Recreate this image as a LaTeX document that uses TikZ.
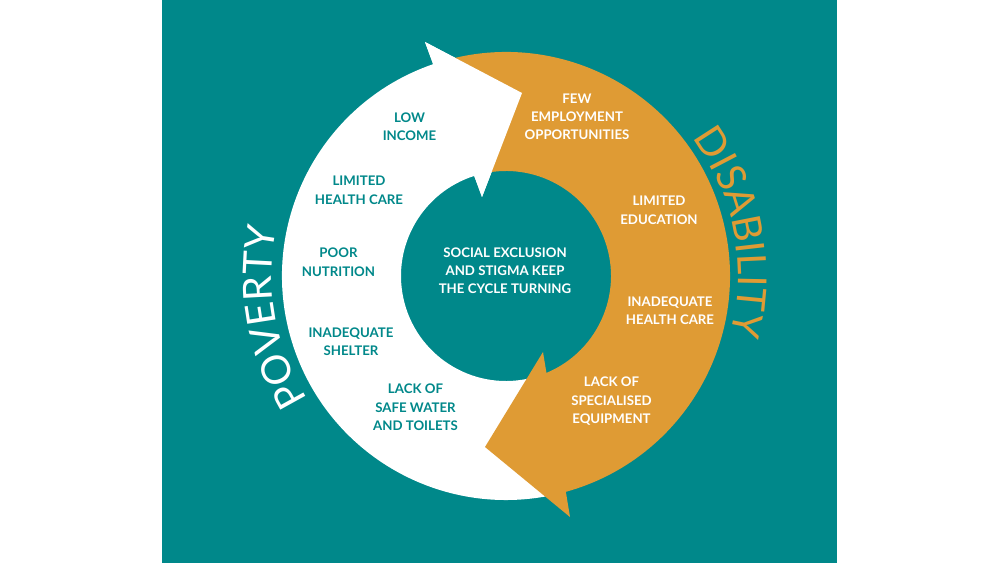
\documentclass[tikz,border=0pt]{standalone}
\usepackage{fontspec}
\setmainfont{Lato}
\newfontfamily\curvefont{Lato}
\usetikzlibrary{calc,decorations.text}
\definecolor{bgteal}{HTML}{00888A}
\definecolor{ochre}{HTML}{DF9B34}
\begin{document}
\begin{tikzpicture}[x=0.03cm,y=0.03cm,
  lab/.style={font=\fontsize{11.3}{15.6}\selectfont\bfseries, align=center, inner sep=0pt, anchor=north},
  labw/.style={lab, text=bgteal},
  labo/.style={lab, text=white}]
\useasboundingbox (0,0) rectangle (1000,563);
\fill[white] (0,0) rectangle (1000,563);
\fill[bgteal] (162,0) rectangle (837,563);
\coordinate (C) at (506,287);
\coordinate (wo) at (425,521);
\coordinate (wi) at (482,366);
\coordinate (wt) at (522,470);
\coordinate (oo) at (570,46);
\coordinate (oi) at (543,211);
\coordinate (ot) at (485,116);
% white arrow
\fill[white] ($(C)+(108.98:224)$) arc[start angle=108.98, end angle=282, radius=224]
  -- ($(C)+(282:105)$) arc[start angle=282, end angle=107.6, radius=105]
  -- (wi) -- (wt) -- (wo) -- cycle;
% orange arrow
\fill[ochre] ($(C)+(105:224)$) arc[start angle=105, end angle=-74.5, radius=224]
  -- (oo) -- (ot) -- (oi) -- ($(C)+(-67.35:105)$)
  arc[start angle=-67.35, end angle=105, radius=105] -- cycle;
% white head on top
\fill[white] (wo) -- (wi) -- (wt) -- cycle;
% curved titles
\path[decorate, decoration={text along path, text align=center,
  text={|\curvefont\fontsize{34}{34}\selectfont\color{white}|POVERTY}}]
  ($(C)+(225:234)$) arc[start angle=225, end angle=155, radius=234];
\path[decorate, decoration={text along path, text align=center,
  text={|\curvefont\fontsize{34}{34}\selectfont\color{ochre}|DISABILITY}}]
  ($(C)+(50:232)$) arc[start angle=50, end angle=-28, radius=232];
% labels
\node[labw] (l1) at (409.5,450.5) {LOW\\INCOME};
\node[labw] (l2) at (359,387) {LIMITED\\HEALTH CARE};
\node[labw] (l3) at (338.5,315) {POOR\\NUTRITION};
\node[labw] (l4) at (351,235.5) {INADEQUATE\\SHELTER};
\node[labw] (l5) at (415.5,179) {LACK OF\\SAFE WATER\\AND TOILETS};
\node[labo] (r1) at (577,469.5) {FEW\\EMPLOYMENT\\OPPORTUNITIES};
\node[labo] (r2) at (659,367) {LIMITED\\EDUCATION};
\node[labo] (r3) at (670,266.5) {INADEQUATE\\HEALTH CARE};
\node[labo] (r4) at (611.5,186) {LACK OF\\SPECIALISED\\EQUIPMENT};
\node[labo] (c1) at (505,315.5) {SOCIAL EXCLUSION\\AND STIGMA KEEP\\THE CYCLE TURNING};
\end{tikzpicture}
\end{document}
